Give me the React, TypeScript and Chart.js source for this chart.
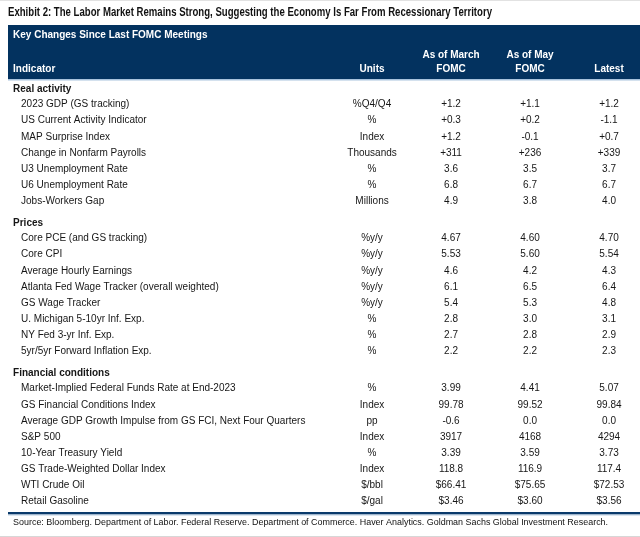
import React, { useEffect, useRef } from "react";
import { Chart, registerables } from "chart.js";

Chart.register(...registerables);

const title =
  "Exhibit 2: The Labor Market Remains Strong, Suggesting the Economy Is Far From Recessionary Territory";
const subtitle = "Key Changes Since Last FOMC Meetings";
const headerIndicator = "Indicator";
const headerUnits = "Units";
const headerMarch = ["As of March", "FOMC"];
const headerMay = ["As of May", "FOMC"];
const headerLatest = "Latest";
const source =
  "Source: Bloomberg. Department of Labor. Federal Reserve. Department of Commerce. Haver Analytics. Goldman Sachs Global Investment Research.";

const sections = ["Real activity", "Prices", "Financial conditions"];
const sectionSizes = [7, 8, 8];

const indicators = [
  "2023 GDP (GS tracking)",
  "US Current Activity Indicator",
  "MAP Surprise Index",
  "Change in Nonfarm Payrolls",
  "U3 Unemployment Rate",
  "U6 Unemployment Rate",
  "Jobs-Workers Gap",
  "Core PCE (and GS tracking)",
  "Core CPI",
  "Average Hourly Earnings",
  "Atlanta Fed Wage Tracker (overall weighted)",
  "GS Wage Tracker",
  "U. Michigan 5-10yr Inf. Exp.",
  "NY Fed 3-yr Inf. Exp.",
  "5yr/5yr Forward Inflation Exp.",
  "Market-Implied Federal Funds Rate at End-2023",
  "GS Financial Conditions Index",
  "Average GDP Growth Impulse from GS FCI, Next Four Quarters",
  "S&P 500",
  "10-Year Treasury Yield",
  "GS Trade-Weighted Dollar Index",
  "WTI Crude Oil",
  "Retail Gasoline",
];

const units = [
  "%Q4/Q4", "%", "Index", "Thousands", "%", "%", "Millions",
  "%y/y", "%y/y", "%y/y", "%y/y", "%y/y", "%", "%", "%",
  "%", "Index", "pp", "Index", "%", "Index", "$/bbl", "$/gal",
];

const marchValues = [
  "+1.2", "+0.3", "+1.2", "+311", "3.6", "6.8", "4.9",
  "4.67", "5.53", "4.6", "6.1", "5.4", "2.8", "2.7", "2.2",
  "3.99", "99.78", "-0.6", "3917", "3.39", "118.8", "$66.41", "$3.46",
];

const mayValues = [
  "+1.1", "+0.2", "-0.1", "+236", "3.5", "6.7", "3.8",
  "4.60", "5.60", "4.2", "6.5", "5.3", "3.0", "2.8", "2.2",
  "4.41", "99.52", "0.0", "4168", "3.59", "116.9", "$75.65", "$3.60",
];

const latestValues = [
  "+1.2", "-1.1", "+0.7", "+339", "3.7", "6.7", "4.0",
  "4.70", "5.54", "4.3", "6.4", "4.8", "3.1", "2.9", "2.3",
  "5.07", "99.84", "0.0", "4294", "3.73", "117.4", "$72.53", "$3.56",
];

// ---- layout (row slots on the y scale, columns on the x scale) ----
const ROW_STEP = 1.008;
const sectionPos: number[] = [];
const rowPos: number[] = [];
{
  let last = 0;
  sectionSizes.forEach((n, s) => {
    const head = s === 0 ? 0 : last + 1.36;
    sectionPos.push(head);
    for (let k = 0; k < n; k++) {
      last = head + 0.97 + k * ROW_STEP;
      rowPos.push(last);
    }
  });
}

const X_SECTION = -3.544;
const X_INDICATOR = -3.443;
const X_UNITS = 1;
const X_MARCH = 2;
const X_MAY = 3;
const X_LATEST = 4;

const SANS = "'Liberation Sans', Arial, Helvetica, sans-serif";
const NAVY = "#03325f";
const TEXT = "#161616";

// draw text squeezed horizontally to a target width (condensed look)
function fitText(ctx: any, text: string, x: number, y: number, width: number) {
  const w = ctx.measureText(text).width;
  const k = Math.min(1, width / w);
  ctx.save();
  ctx.translate(x, y);
  ctx.scale(k, 1);
  ctx.fillText(text, 0, 0);
  ctx.restore();
}

const tablePlugin = {
  id: "tableFrame",
  beforeDatasetsDraw(chart: any) {
    const { ctx, chartArea } = chart;
    const xs = chart.scales.x;
    const ys = chart.scales.y;
    const px = (v: number) => xs.getPixelForValue(v);
    const py = (v: number) => ys.getPixelForValue(v);
    ctx.save();
    ctx.fillStyle = "#ffffff";
    ctx.fillRect(0, 0, chart.width, chart.height);
    // top faint rule
    ctx.fillStyle = "#e2e2e2";
    ctx.fillRect(0, 0, chart.width, 1);
    // title
    ctx.fillStyle = "#111";
    ctx.textBaseline = "middle";
    ctx.textAlign = "left";
    ctx.font = `bold 13px ${SANS}`;
    fitText(ctx, title, chartArea.left, py(-4.78), 484);
    // header band
    const top = py(-4);
    const bot = py(-0.625);
    ctx.fillStyle = NAVY;
    ctx.fillRect(chartArea.left, top, chartArea.right - chartArea.left, bot - top);
    ctx.fillStyle = "#a9c3dd";
    ctx.fillRect(chartArea.left, bot, chartArea.right - chartArea.left, 1.5);
    // header texts
    ctx.fillStyle = "#ffffff";
    ctx.font = `bold 10px ${SANS}`;
    ctx.textAlign = "left";
    ctx.fillText(subtitle, px(X_SECTION), py(-3.375));
    ctx.fillText(headerIndicator, px(X_SECTION), py(-1.25));
    ctx.textAlign = "center";
    ctx.fillText(headerUnits, px(X_UNITS), py(-1.25));
    ctx.fillText(headerMarch[0], px(X_MARCH), py(-2.125));
    ctx.fillText(headerMarch[1], px(X_MARCH), py(-1.25));
    ctx.fillText(headerMay[0], px(X_MAY), py(-2.125));
    ctx.fillText(headerMay[1], px(X_MAY), py(-1.25));
    ctx.fillText(headerLatest, px(X_LATEST), py(-1.25));
    // bottom rules
    const b = py(26.5);
    ctx.fillStyle = "#0a3a6b";
    ctx.fillRect(chartArea.left, b - 1, chartArea.right - chartArea.left, 2.5);
    ctx.fillStyle = "#b9cde2";
    ctx.fillRect(chartArea.left, b + 1.5, chartArea.right - chartArea.left, 1);
    // source
    ctx.fillStyle = "#111";
    ctx.textAlign = "left";
    ctx.font = `9px ${SANS}`;
    fitText(ctx, source, px(X_SECTION), py(27.125), 595);
    ctx.fillStyle = "#d6d6d6";
    ctx.fillRect(0, py(27.94), chart.width, 1);
    ctx.restore();
  },
  afterDatasetsDraw(chart: any) {
    const { ctx } = chart;
    ctx.save();
    ctx.textBaseline = "middle";
    chart.data.datasets.forEach((ds: any, i: number) => {
      const meta = chart.getDatasetMeta(i);
      ctx.font = ds.textFont;
      ctx.fillStyle = ds.textColor;
      ctx.textAlign = ds.textAlign;
      meta.data.forEach((el: any, j: number) => {
        ctx.fillText(ds.labels[j], el.x, el.y);
      });
    });
    ctx.restore();
  },
};

function column(xv: number, ys: number[], labels: string[], align: string, font: string, label: string) {
  return {
    label,
    data: ys.map((yv) => ({ x: xv, y: yv })),
    labels,
    textAlign: align,
    textFont: font,
    textColor: TEXT,
    pointRadius: 0,
    pointHoverRadius: 0,
    showLine: false,
  };
}

export default function App() {
  const ref = useRef<HTMLCanvasElement | null>(null);
  useEffect(() => {
    document.body.style.margin = "0";
    const canvas = ref.current;
    if (!canvas) return;
    const chart = new Chart(canvas, {
      type: "scatter",
      data: {
        datasets: [
          column(X_SECTION, sectionPos, sections, "left", `bold 10px ${SANS}`, "Sections") as any,
          column(X_INDICATOR, rowPos, indicators, "left", `10px ${SANS}`, "Indicator") as any,
          column(X_UNITS, rowPos, units, "center", `10px ${SANS}`, "Units") as any,
          column(X_MARCH, rowPos, marchValues, "center", `10px ${SANS}`, "As of March FOMC") as any,
          column(X_MAY, rowPos, mayValues, "center", `10px ${SANS}`, "As of May FOMC") as any,
          column(X_LATEST, rowPos, latestValues, "center", `10px ${SANS}`, "Latest") as any,
        ],
      },
      options: {
        animation: false,
        responsive: false,
        maintainAspectRatio: false,
        devicePixelRatio: 1,
        layout: { padding: { top: 25, bottom: 16, left: 8, right: 0 } },
        plugins: { legend: { display: false }, tooltip: { enabled: false }, title: { display: false } },
        events: [],
        scales: {
          x: { type: "linear", display: false, min: -3.608, max: 4.392 },
          y: { type: "linear", display: false, reverse: true, min: -4, max: 27 },
        },
      },
      plugins: [tablePlugin],
    });
    return () => chart.destroy();
  }, []);
  return (
    <div style={{ position: "absolute", left: 0, top: 0, width: 640, height: 537, background: "#fff" }}>
      <canvas ref={ref} width={640} height={537} style={{ display: "block", width: 640, height: 537 }} />
    </div>
  );
}
